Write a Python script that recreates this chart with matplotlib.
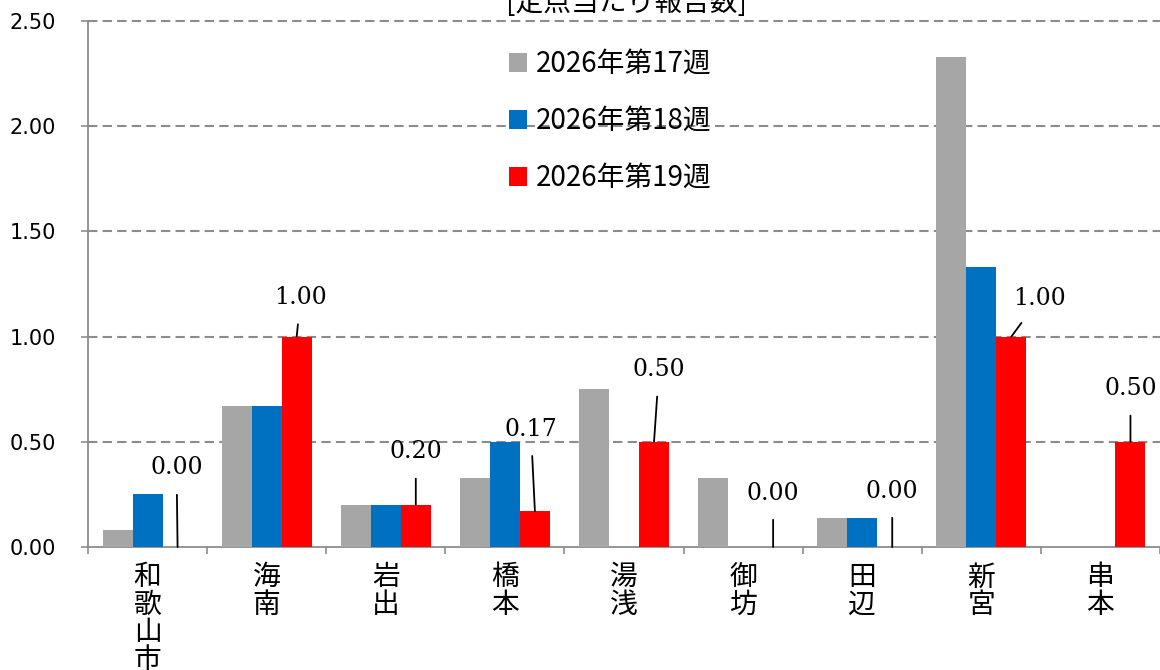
import matplotlib
matplotlib.use("Agg")
import matplotlib.pyplot as plt
import numpy as np

plt.rcParams['font.family'] = ['Noto Sans CJK JP', 'DejaVu Sans']

# data
areas = ['和歌山市', '海南', '岩出', '橋本', '湯浅', '御坊', '田辺', '新宮', '串本']
week17 = [0.08, 0.67, 0.20, 0.33, 0.75, 0.33, 0.14, 2.33, 0.00]
week18 = [0.25, 0.67, 0.20, 0.50, 0.00, 0.00, 0.14, 1.33, 0.00]
week19 = [0.00, 1.00, 0.20, 0.17, 0.50, 0.00, 0.00, 1.00, 0.50]
series_names = ['2026年第17週', '2026年第18週', '2026年第19週']
yticks = [0.0, 0.5, 1.0, 1.5, 2.0, 2.5]

# where the value labels of the last week sit (pixels from bar top)
label_offsets = [(-1, 79), (4, 39), (0, 53), (-4, 82), (5, 72),
                 (0, 54), (0, 56), (28, 38), (0, 53)]

colors = ['#A6A6A6', '#0070C0', '#FF0000']
grid_color = '#8C8C8C'

fig = plt.figure(figsize=(11.6, 6.7), dpi=100)
ax = fig.add_axes([88/1160, 123/670, 1 - 88/1160, 526/670])

x = np.arange(len(areas)) + 0.5
w = 0.252
for i, vals in enumerate([week17, week18, week19]):
    ax.bar(x + (i - 1) * w, vals, width=w, color=colors[i], linewidth=0,
           label=series_names[i], zorder=3)

ax.set_xlim(0, len(areas))
ax.set_ylim(0, 2.5)
ax.set_yticks(yticks)
ax.set_yticklabels(['%.2f' % v for v in yticks], family='DejaVu Sans', fontsize=15)
ax.tick_params(axis='y', length=5, width=1.2, color=grid_color, pad=18)

# vertical (stacked) area names
ax.set_xticks(x)
ax.set_xticklabels(['\n'.join(a) for a in areas])
for t in ax.get_xticklabels():
    t.set_fontsize(20)
    t.set_verticalalignment('top')
    t.set_linespacing(0.89)
ax.tick_params(axis='x', which='major', length=0, pad=11)
ax.set_xticks(np.arange(len(areas) + 1), minor=True)
ax.tick_params(axis='x', which='minor', length=5, width=1.2, color=grid_color)

for s in ['top', 'right']:
    ax.spines[s].set_visible(False)
for s in ['left', 'bottom']:
    ax.spines[s].set_color(grid_color)
    ax.spines[s].set_linewidth(1.3)

for v in yticks[1:]:
    ax.axhline(v, color=grid_color, linestyle=(0, (4.5, 2.5)), linewidth=1.5, zorder=1,
               clip_on=False)

# value labels with leader lines for the latest week
for xi, v, (dx, dy) in zip(x + w, week19, label_offsets):
    ax.annotate('%.2f' % v, xy=(xi, v), xytext=(dx, dy), textcoords='offset pixels',
                ha='center', va='center', family='DejaVu Serif', fontsize=17,
                arrowprops=dict(arrowstyle='-', color='black', lw=1.3,
                                shrinkA=9, shrinkB=0), zorder=5)

leg = ax.legend(loc='upper left', bbox_to_anchor=(498/1160, 632/670),
                bbox_transform=fig.transFigure, frameon=False, fontsize=20,
                handlelength=0.65, handleheight=0.65, handletextpad=0.32,
                labelspacing=0.97, borderaxespad=0)

fig.text(626/1160, 667/670, '[定点当たり報告数]', ha='center', va='center', fontsize=20)

fig.savefig('out.png', dpi=100)
